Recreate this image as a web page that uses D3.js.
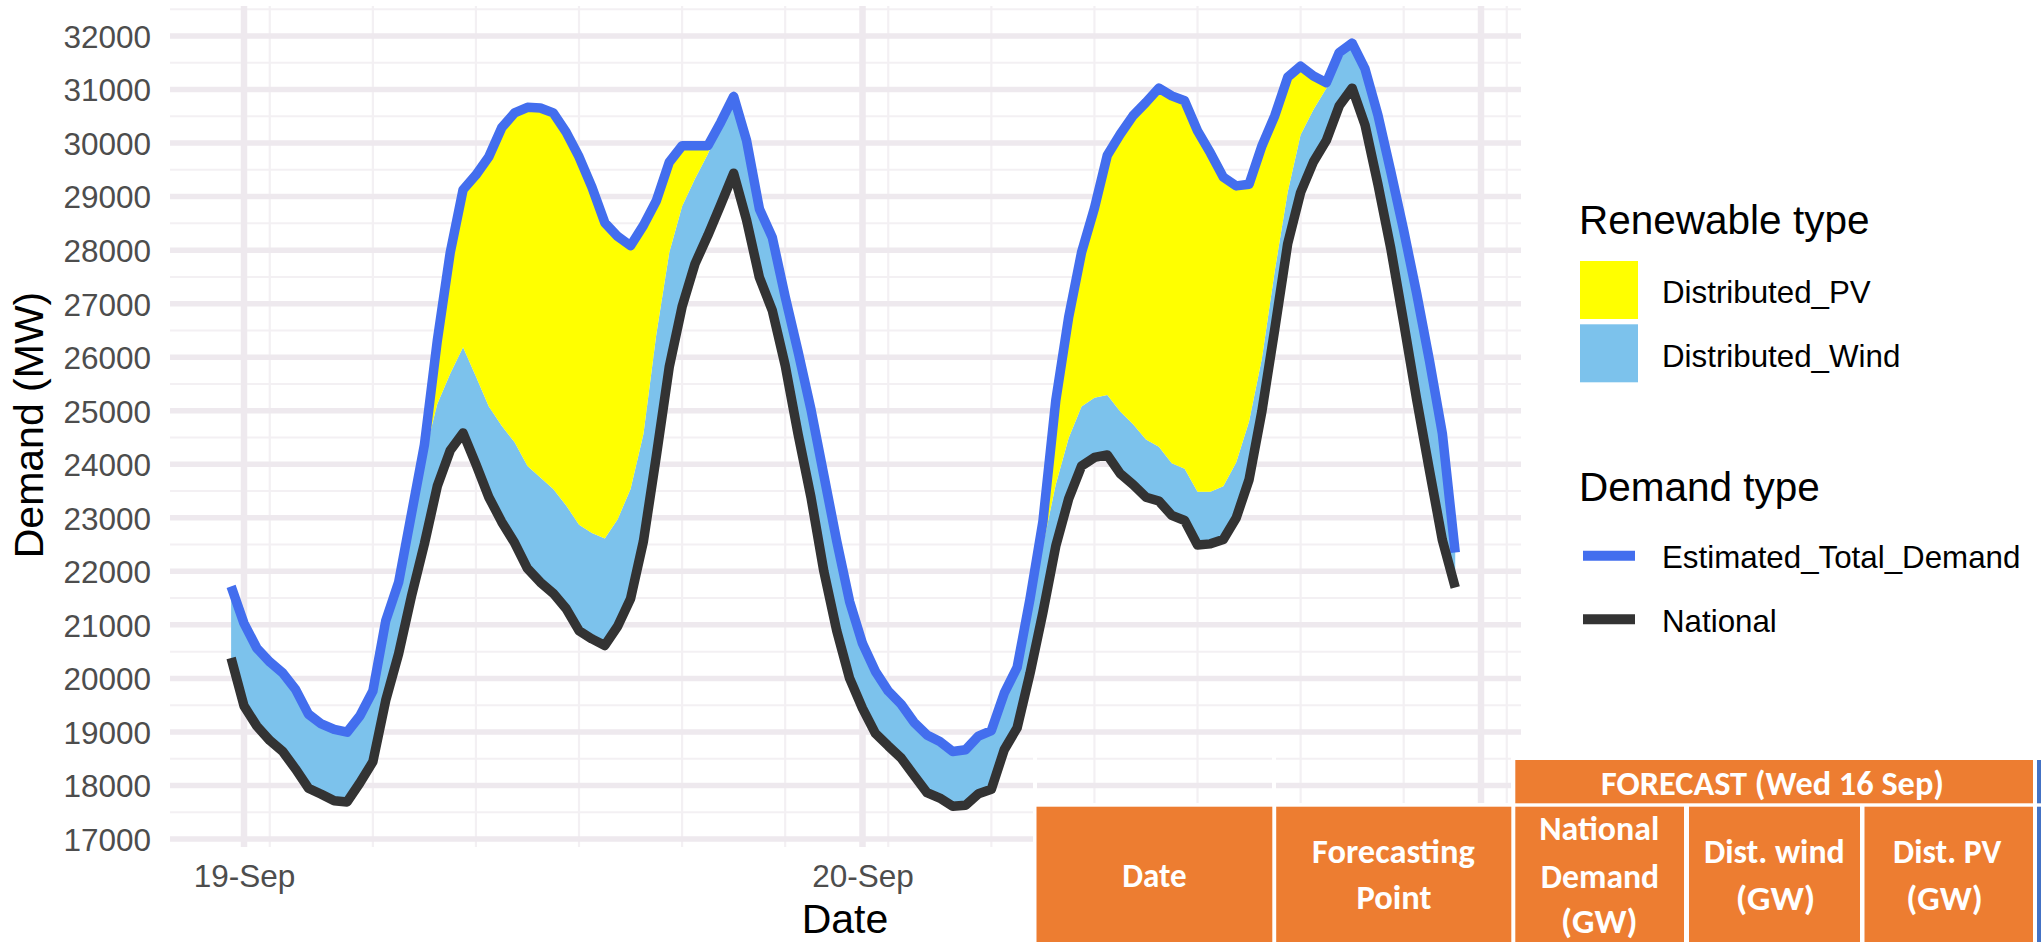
<!DOCTYPE html>
<html><head><meta charset="utf-8">
<script src="https://cdn.jsdelivr.net/npm/d3@7"></script>
<style>
html,body{margin:0;padding:0;background:#fff;overflow:hidden;}
svg{display:block;}
</style></head><body>
<svg id="chart" width="2041" height="942"></svg>
<script>
// ---- data (MW), half-hourly from 18-Sep 23:30 ----
const national = [20380,19487,19108,18841,18636,18308,17949,17836,17713,17692,
  18051,18441,19590,20462,21538,22513,23590,24256,24585,24000,
  23385,22923,22533,22051,21795,21590,21303,20892,20738,20615,
  20974,21487,22564,24154,25815,26944,27744,28277,28851,29436,
  28564,27487,26872,25846,24564,23385,22000,20892,20000,19440,
  18974,18738,18513,18185,17867,17764,17610,17631,17846,17928,
  18667,19077,20093,21231,22472,23354,23969,24128,24174,23826,
  23621,23385,23313,23046,22950,22492,22513,22595,22995,23713,
  24995,26533,28123,29077,29651,30051,30697,31026,30338,29231,
  28031,26646,25221,23887,22585,21700];
const distWind = [1340,1540,1456,1467,1467,1487,1384,1313,1333,1303,
  1252,1323,1487,1333,1539,1650,1538,1436,1600,1641,
  1692,1795,1877,1918,1959,1948,1928,1980,1980,2000,
  2000,2051,2000,2276,2134,1877,1589,1518,1539,1436,
  1487,1282,1364,1282,1539,1641,1795,1672,1436,1210,
  1159,1026,1005,994,1077,1057,1026,1036,1077,1098,
  1056,1128,1394,1250,1149,1138,1108,1113,1118,1159,
  1128,1077,1015,975,968,995,974,995,1036,1087,
  984,1088,964,1077,975,975,995,841,1047,1292,
  1436,1723,1979,2051,1989,650];
const distPV = [0,0,0,0,0,0,0,0,0,0,
  0,0,0,0,0,200,1180,2257,2943,3764,
  4667,5569,6154,6698,6902,7026,6974,6872,6461,5898,
  5282,4544,3898,2493,1692,1128,616,154,0,0,
  0,0,0,0,0,0,0,0,0,0,
  0,0,0,0,0,0,0,0,0,0,
  0,0,0,450,1572,2257,2882,3543,4482,5179,
  5764,6297,6698,6861,6872,6739,6328,5774,5169,4431,
  3970,2892,2144,1282,625,102,0,0,0,0,
  0,0,0,0,0,0];
const startTime = Date.UTC(2020, 8, 18, 23, 30);
const stepMs = 30 * 60 * 1000;

const yTicks = [17000,18000,19000,20000,21000,22000,23000,24000,25000,26000,27000,28000,29000,30000,31000,32000];
const dayBreaks = [Date.UTC(2020,8,19), Date.UTC(2020,8,20), Date.UTC(2020,8,21)];
const xTickLabels = ["19-Sep","20-Sep"];
const fillKeys = ["Distributed_PV","Distributed_Wind"];
const lineKeys = ["Estimated_Total_Demand","National"];
const tableCols = [["Date"],["Forecasting","Point"],["National","Demand","(GW)"],["Dist. wind","(GW)"],["Dist. PV","(GW)"]];
const tableGroup = "FORECAST (Wed 16 Sep)";

// ---- setup ----
const svg = d3.select("#chart");
svg.append("rect").attr("width",2041).attr("height",942).attr("fill","#fff");
const panel = {left:170, right:1521, top:6, bottom:847};
const x = d3.scaleUtc().domain([new Date(dayBreaks[0]), new Date(dayBreaks[2])]).range([244, 1481]);
const y = d3.scaleLinear().domain([17000, 32000]).range([839, 36]);

const rows = national.map((v,i)=>({t:new Date(startTime + i*stepMs), national:v, wind:distWind[i], pv:distPV[i]}));
const series = d3.stack().keys(["national","wind","pv"])(rows);

// ---- grid ----
const grid = svg.append("g");
const minorY = d3.range(17500, 33000, 1000);
grid.selectAll(".my").data(minorY).join("line")
  .attr("x1",panel.left).attr("x2",panel.right).attr("y1",d=>y(d)).attr("y2",d=>y(d))
  .attr("stroke","#F3F0F3").attr("stroke-width",2);
const minorX = d3.utcHour.range(x.invert(panel.left), x.invert(panel.right)).filter(d=>d.getUTCHours()%4===1);
grid.selectAll(".mx").data(minorX).join("line")
  .attr("x1",d=>x(d)).attr("x2",d=>x(d)).attr("y1",panel.top).attr("y2",panel.bottom)
  .attr("stroke","#F3F0F3").attr("stroke-width",2.2);
grid.selectAll(".My").data(yTicks).join("line")
  .attr("x1",panel.left).attr("x2",panel.right).attr("y1",d=>y(d)).attr("y2",d=>y(d))
  .attr("stroke","#EEE9EE").attr("stroke-width",5.5);
grid.selectAll(".Mx").data(dayBreaks).join("line")
  .attr("x1",d=>x(d)).attr("x2",d=>x(d)).attr("y1",panel.top).attr("y2",panel.bottom)
  .attr("stroke","#EEE9EE").attr("stroke-width",6.5);

// ---- areas ----
const area = d3.area().x(d=>x(d.data.t)).y0(d=>y(d[0])).y1(d=>y(d[1]));
svg.append("path").datum(series[1]).attr("d",area).attr("fill","#7CC2EC");
svg.append("path").datum(series[2]).attr("d",area).attr("fill","#FFFF00");

// ---- lines ----
const line = d3.line().x(d=>x(d.data.t)).y(d=>y(d[1]));
svg.append("path").datum(series[2]).attr("d",line).attr("fill","none")
  .attr("stroke","#436EEE").attr("stroke-width",9.5).attr("stroke-linejoin","round").attr("stroke-linecap","butt");
svg.append("path").datum(series[0]).attr("d",line).attr("fill","none")
  .attr("stroke","#333333").attr("stroke-width",9.5).attr("stroke-linejoin","round").attr("stroke-linecap","butt");

// ---- axes ----
const font = "'Liberation Sans', Arial, Helvetica, sans-serif";
const yAxis = svg.append("g").attr("transform","translate(151,0)")
  .call(d3.axisLeft(y).tickValues(yTicks).tickSize(0).tickPadding(0).tickFormat(d3.format("d")));
yAxis.select(".domain").remove();
yAxis.selectAll("text").attr("font-family",font).attr("font-size",31.5).attr("fill","#4D4D4D").attr("dy","0.36em");

const xAxis = svg.append("g").attr("transform","translate(0,887)")
  .call(d3.axisBottom(x).tickValues(dayBreaks.slice(0,2).map(d=>new Date(d))).tickSize(0).tickPadding(0)
    .tickFormat((d,i)=>xTickLabels[i]));
xAxis.select(".domain").remove();
xAxis.selectAll("text").attr("font-family",font).attr("font-size",31.5).attr("fill","#4D4D4D").attr("y",0).attr("dy",0);

svg.append("text").attr("x",845).attr("y",933).attr("text-anchor","middle")
  .attr("font-family",font).attr("font-size",41).attr("fill","#000").text("Date");
svg.append("text").attr("transform","translate(43,425) rotate(-90)").attr("text-anchor","middle")
  .attr("font-family",font).attr("font-size",41).attr("fill","#000").text("Demand (MW)");

// ---- legend ----
const lg = svg.append("g").attr("font-family",font);
lg.append("text").attr("x",1579).attr("y",234).attr("font-size",40.5).text("Renewable type");
const fillColors = {"Distributed_PV":"#FFFF00","Distributed_Wind":"#7CC2EC"};
fillKeys.forEach((k,i)=>{
  lg.append("rect").attr("x",1580).attr("y",261+i*63.3).attr("width",58).attr("height",58).attr("fill",fillColors[k]);
  lg.append("text").attr("x",1662).attr("y",303+i*64).attr("font-size",31.3).text(k);
});
lg.append("text").attr("x",1579).attr("y",500.7).attr("font-size",40.5).text("Demand type");
const lineColors = {"Estimated_Total_Demand":"#436EEE","National":"#333333"};
lineKeys.forEach((k,i)=>{
  lg.append("line").attr("x1",1583).attr("x2",1635).attr("y1",555.7+i*63.6).attr("y2",555.7+i*63.6)
    .attr("stroke",lineColors[k]).attr("stroke-width",10);
  lg.append("text").attr("x",1662).attr("y",568.3+i*64).attr("font-size",31.3).text(k);
});

// ---- table overlay ----
const tb = svg.append("g");
tb.append("rect").attr("x",1033).attr("y",803).attr("width",1008).attr("height",139).attr("fill","#fff");
tb.append("rect").attr("x",1511).attr("y",757).attr("width",530).attr("height",50).attr("fill","#fff");
[1033,1272].forEach(xx=>tb.append("rect").attr("x",xx).attr("y",757).attr("width",4).attr("height",50).attr("fill","#fff"));
const orange = "#ED7D31";
const colX = [[1036.5,1272.3],[1276.2,1511.3],[1515.3,1684],[1689,1860],[1864.5,2033]];
colX.forEach(c=>tb.append("rect").attr("x",c[0]).attr("y",806.7).attr("width",c[1]-c[0]).attr("height",942-806.7).attr("fill",orange));
tb.append("rect").attr("x",1515.3).attr("y",760).attr("width",2033-1515.3).attr("height",43.3).attr("fill",orange);
tb.append("rect").attr("x",2037).attr("y",760).attr("width",4).attr("height",43.3).attr("fill","#4472C4");
tb.append("rect").attr("x",2037).attr("y",806.7).attr("width",4).attr("height",136).attr("fill","#4472C4");

const tfont = "Carlito, Calibri, Lato, 'Open Sans', sans-serif";
function ttext(str, cx, base, len){
  tb.append("text").attr("x",cx).attr("y",base).attr("text-anchor","middle")
    .attr("font-family",tfont).attr("font-weight","bold").attr("font-size",33.5).attr("fill","#fff")
    .attr("textLength",len).attr("lengthAdjust","spacingAndGlyphs").text(str);
}
ttext(tableGroup, 1772.5, 795, 343);
const cellText = [
  [[1154.4,886.7,64.5]],
  [[1393.4,863.3,162.7],[1394,909,75]],
  [[1599.3,840,120],[1600,888,118.4],[1599.3,933,76.4]],
  [[1774.3,863.3,140.8],[1775.5,910,79.7]],
  [[1947.2,863.3,108.2],[1944.5,910,76.4]]
];
tableCols.forEach((lines,ci)=>lines.forEach((s,li)=>{
  const p = cellText[ci][li];
  ttext(s, p[0], p[1], p[2]);
}));
</script>
</body></html>
